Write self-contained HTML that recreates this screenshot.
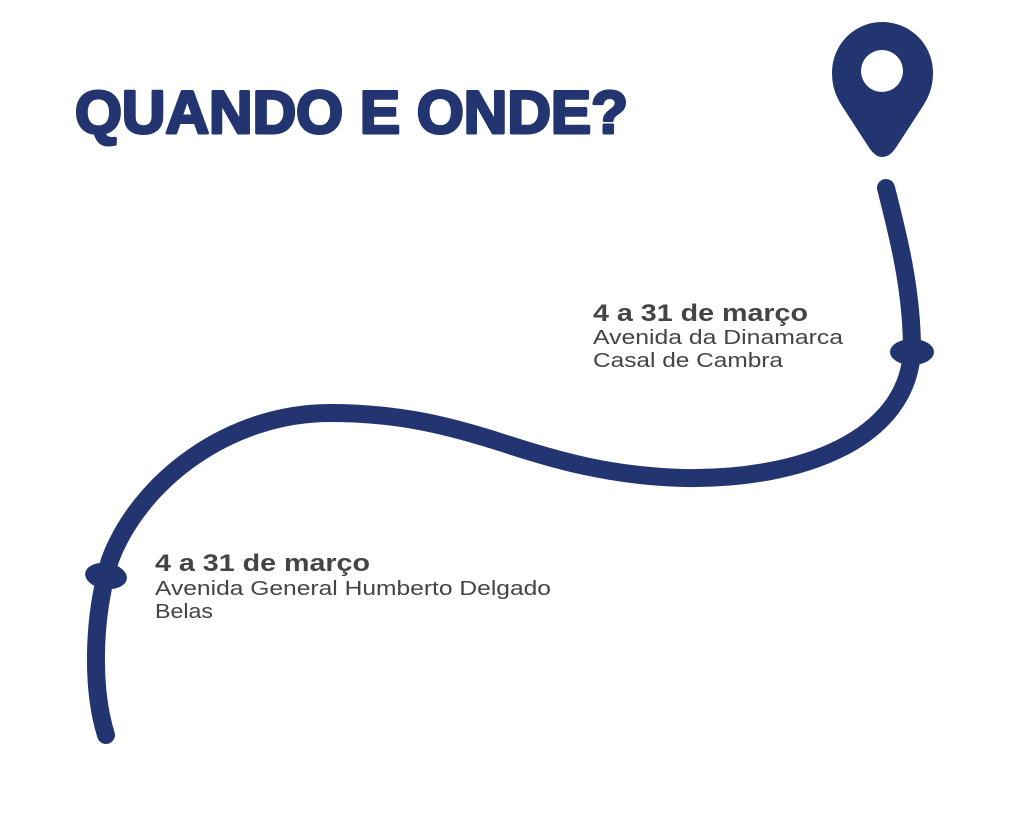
<!DOCTYPE html>
<html><head><meta charset="utf-8"><style>
html,body{margin:0;padding:0;background:#fff;}
svg{display:block;}
</style></head><body>
<svg width="1024" height="821" viewBox="0 0 1024 821" xmlns="http://www.w3.org/2000/svg">
<text x="75" y="133" font-family="Liberation Sans, sans-serif" font-weight="bold" font-size="60" fill="#233570" stroke="#233570" stroke-width="3" stroke-linejoin="round" textLength="553" lengthAdjust="spacingAndGlyphs">QUANDO E ONDE?</text>
<!-- pin -->
<path d="M882,157 C876,157 872,152 868,146 L842,106 C835,95 832,85 832,73 C832,44 855,22 882,22 C910,22 933,44 933,73 C933,85 930,95 923,106 L897,146 C893,152 889,157 882,157 Z" fill="#233570"/>
<circle cx="882" cy="71" r="21" fill="#fff"/>
<!-- path -->
<path d="M886,188 C898,235 912,290 912,350 C908,440 800,480 684,478 C610,476 555,460 503,443 C450,426 400,413 330,413 C230,413 140,480 110,560 C92,620 92,690 106,735" fill="none" stroke="#233570" stroke-width="18" stroke-linecap="round"/>
<ellipse cx="912" cy="352" rx="22" ry="13" fill="#233570"/>
<ellipse cx="106" cy="576" rx="21" ry="13" fill="#233570" transform="rotate(8 106 576)"/>
<!-- labels -->
<g font-family="Liberation Sans, sans-serif">
<text x="593" y="321" font-size="24" font-weight="bold" fill="#444" textLength="215" lengthAdjust="spacingAndGlyphs">4 a 31 de março</text>
<text x="593" y="344" font-size="20" fill="#444" textLength="250" lengthAdjust="spacingAndGlyphs">Avenida da Dinamarca</text>
<text x="593" y="367" font-size="20" fill="#444" textLength="190" lengthAdjust="spacingAndGlyphs">Casal de Cambra</text>
<text x="155" y="571" font-size="24" font-weight="bold" fill="#444" textLength="215" lengthAdjust="spacingAndGlyphs">4 a 31 de março</text>
<text x="155" y="595" font-size="20" fill="#444" textLength="396" lengthAdjust="spacingAndGlyphs">Avenida General Humberto Delgado</text>
<text x="155" y="618" font-size="20" fill="#444" textLength="58" lengthAdjust="spacingAndGlyphs">Belas</text>
</g>
</svg>
</body></html>
